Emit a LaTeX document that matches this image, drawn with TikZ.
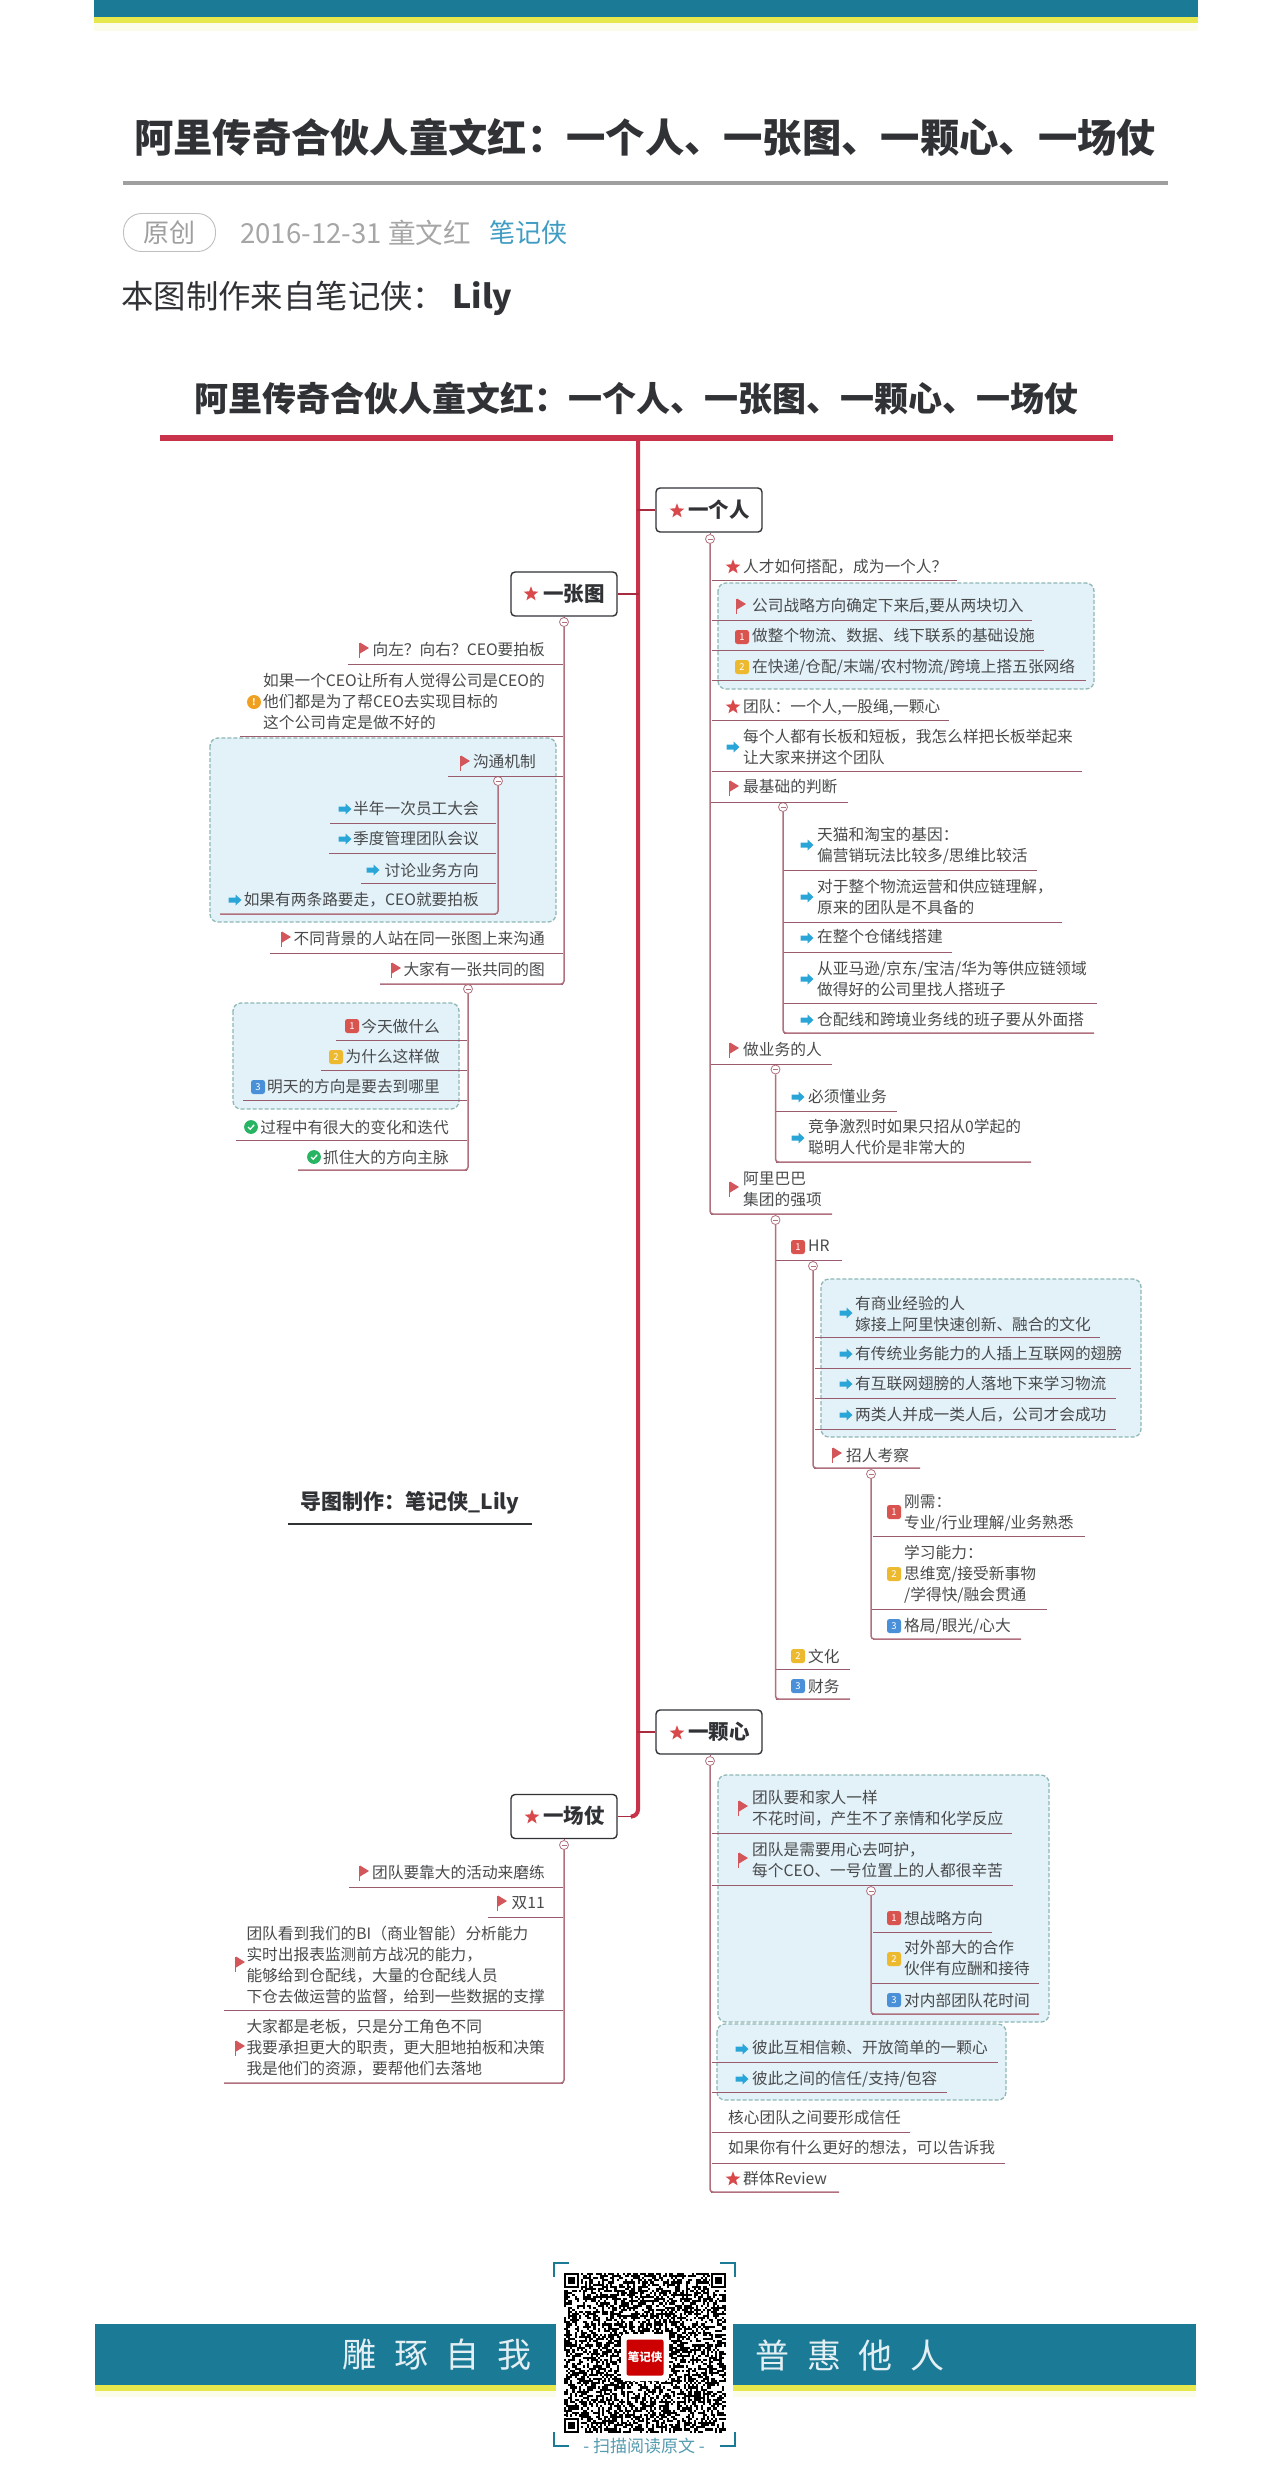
\documentclass[tikz,border=0pt]{standalone}
\usepackage{fontspec}
\setmainfont{Noto Sans CJK SC}
\usetikzlibrary{shapes.geometric}
\definecolor{teal}{HTML}{1B7A96}
\definecolor{barY}{HTML}{E6E84E}
\definecolor{titleC}{HTML}{303236}
\definecolor{bodyC}{HTML}{484A4C}
\definecolor{mainR}{HTML}{C8324A}
\definecolor{stemC}{HTML}{B0707E}
\definecolor{underC}{HTML}{9A5C6C}
\definecolor{boxF}{HTML}{E3F1F8}
\definecolor{boxD}{HTML}{8DB8B5}
\definecolor{flagC}{HTML}{D2565A}
\definecolor{starC}{HTML}{D9484A}
\definecolor{arrC}{HTML}{2AA5D8}
\definecolor{bR}{HTML}{D9534F}
\definecolor{bY}{HTML}{EDB92E}
\definecolor{bB}{HTML}{4A90D9}
\definecolor{chk}{HTML}{27B563}
\definecolor{warnC}{HTML}{F0A020}
\tikzset{
 txt/.style={inner sep=0pt,font=\fontsize{15.7}{21}\selectfont,text=bodyC,align=left},
 topic/.style={draw=titleC,line width=1.4pt,rounded corners=4pt,fill=white,minimum width=106pt,minimum height=44pt,inner sep=0pt},
 topictxt/.style={inner sep=0pt,font=\fontsize{20.5}{24}\selectfont\bfseries,text=titleC},
 groupbox/.style={draw=boxD,fill=boxF,line width=1.3pt,dash pattern=on 4pt off 2pt,rounded corners=8pt},
 stem/.style={draw=stemC,line width=1.5pt,rounded corners=3pt},
 under/.style={draw=underC,line width=0.9pt},
 collapse/.style={circle,draw=stemC,fill=white,line width=0.8pt,minimum size=9pt,inner sep=0pt,
   path picture={\draw[stemC,line width=0.7pt] ([xshift=2pt]path picture bounding box.west)--([xshift=-2pt]path picture bounding box.east);}},
 badge/.style={rounded corners=2.5pt,minimum size=14pt,inner sep=0pt,text=white,font=\fontsize{9.5}{9.5}\selectfont},
 staricon/.pic={\node[star,star points=5,star point ratio=2.4,fill=starC,minimum size=15.5pt,inner sep=0pt] (-s) at (0,0) {};},
 flagicon/.pic={\fill[flagC] (-4.5,-7.5) rectangle (-2.8,7.5); \fill[flagC] (-3,-7.5) -- (6,-2) -- (-3,3.5) -- cycle;},
 arrowicon/.pic={\fill[arrC] (-6.5,-2.5) -- (0.5,-2.5) -- (0.5,-5.5) -- (6.5,0) -- (0.5,5.5) -- (0.5,2.5) -- (-6.5,2.5) -- cycle;},
 oneicon/.pic={\node[badge,fill=bR] (-b) at (0,0) {1};},
 twoicon/.pic={\node[badge,fill=bY] (-b) at (0,0) {2};},
 threeicon/.pic={\node[badge,fill=bB] (-b) at (0,0) {3};},
 checkicon/.pic={\fill[chk] (0,0) circle (6.9); \draw[white,line width=1.3pt] (-3,0) -- (-0.8,2.2) -- (3.2,-2.2);},
 warnicon/.pic={\node[circle,fill=warnC,minimum size=14pt,inner sep=0pt,text=white,font=\fontsize{9}{9}\selectfont\bfseries] (-w) at (0,0) {!};},
 noicon/.pic={},
}
\newcommand\itemR[7]{\pic (#1i) at (#3,#4) {#2}; \node[txt,anchor=west] (#1) at (#5,#6) {#7};}
\newcommand\itemL[7]{\pic (#1i) at (#3,#4) {#2}; \node[txt,anchor=east] (#1) at (#5,#6) {#7};}
\newcommand\uln[4]{\coordinate (#1a) at (#2,#4); \coordinate (#1b) at (#3,#4); \draw[under] (#1a) -- (#1b);}
\def\gapw{\hspace{17.5pt}}
\begin{document}
\begin{tikzpicture}[x=1pt,y=-1pt]
\useasboundingbox (0,0) rectangle (1280,2471);
\fill[white] (0,0) rectangle (1280,2471);
% top band
\fill[barY!12] (94,23) rectangle (1198,31);
\fill[teal] (94,0) rectangle (1198,17);
\fill[barY] (94,17) rectangle (1198,23);
% header
\node[inner sep=0pt,font=\fontsize{39.3}{44}\selectfont\bfseries,text=titleC] (title1) at (645,137) {阿里传奇合伙人童文红：一个人、一张图、一颗心、一场仗};
\coordinate (g1) at (123,183); \coordinate (g2) at (1168,183);
\draw[gray!75,line width=4.5pt] (g1) -- (g2);
\node[draw=gray!50,line width=0.9pt,rounded corners=18pt,minimum width=92pt,minimum height=38pt,inner sep=0pt,text=gray!75,font=\fontsize{26}{28}\selectfont] (orig) at (169.5,232.5) {原创};
\node[anchor=west,inner sep=0pt,text=gray!70,font=\fontsize{27.6}{30}\selectfont] (dateN) at (240,233) {2016-12-31 童文红};
\node[anchor=west,inner sep=0pt,text=arrC!75!gray,font=\fontsize{26}{30}\selectfont] (srcN) at (489,233) {笔记侠};
\node[anchor=west,inner sep=0pt,text=titleC,font=\fontsize{32.4}{36}\selectfont] (madeN) at (121,298) {本图制作来自笔记侠： \textbf{Lily}};
\node[inner sep=0pt,font=\fontsize{34}{38}\selectfont\bfseries,text=titleC] (title2) at (636,398) {阿里传奇合伙人童文红：一个人、一张图、一颗心、一场仗};
\coordinate (r1) at (160,438); \coordinate (r2) at (1113,438);
\draw[mainR,line width=6pt] (r1) -- (r2);
% dashed group boxes
\draw[groupbox] (718,583) rectangle (1094,689);
\draw[groupbox] (210,738) rectangle (556,922);
\draw[groupbox] (233,1003) rectangle (459,1109);
\draw[groupbox] (821,1279) rectangle (1141,1437);
\draw[groupbox] (718,1775) rectangle (1049,2022);
\draw[groupbox] (717,2024) rectangle (1006,2100);
% topics
\node[topic] (tA) at (709,510) {};
\node[topic] (tB) at (564,594) {};
\node[topic] (tC) at (709,1732) {};
\node[topic] (tD) at (564,1816.5) {};
\pic (tAs) at (677,511) {staricon}; \node[topictxt,anchor=west] (tAt) at (688,510) {一个人};
\pic (tBs) at (531,594) {staricon}; \node[topictxt,anchor=west] (tBt) at (543,594) {一张图};
\pic (tCs) at (677,1733) {staricon}; \node[topictxt,anchor=west] (tCt) at (688,1732) {一颗心};
\pic (tDs) at (532,1817) {staricon}; \node[topictxt,anchor=west] (tDt) at (543,1816) {一场仗};
% main trunk
\coordinate (top) at (638,441);
\draw[mainR,line width=4pt,rounded corners=7pt] (top) |- ([xshift=14pt]tD.east);
\draw[mainR!85!black,line width=1.3pt] ([xshift=14pt]tD.east) -- (tD.east);
\draw[mainR!85!black,line width=1.3pt] (tA.west) -- ++(-18,0);
\draw[mainR!85!black,line width=1.3pt] (tB.east) -- ++(21,0);
\draw[mainR!85!black,line width=1.3pt] (tC.west) -- ++(-18,0);
% collapse markers
\node[collapse] (cA) at (710,539) {};
\node[collapse] (cA3) at (783,807) {};
\node[collapse] (cA4) at (775.5,1069.5) {};
\node[collapse] (cA5) at (775.5,1220) {};
\node[collapse] (cHR) at (813,1266) {};
\node[collapse] (cZP) at (871,1474) {};
\node[collapse] (cB) at (564,622) {};
\node[collapse] (cB3) at (498,781) {};
\node[collapse] (cB5) at (468,989) {};
\node[collapse] (cC) at (710,1761) {};
\node[collapse] (cC2) at (871,1891) {};
\node[collapse] (cD) at (564,1845) {};
\draw[under] (tA.south -| cA) -- (cA.north);
\draw[under] (tB.south -| cB) -- (cB.north);
\draw[under] (tC.south -| cC) -- (cC.north);
\draw[under] (tD.south -| cD) -- (cD.north);
% ---- 一个人
\itemR{a1}{staricon}{733}{567}{743}{567}{人才如何搭配，成为一个人？}
\uln{ua1}{712}{957}{580}
\itemR{a2}{flagicon}{740}{606}{752}{606}{公司战略方向确定下来后,要从两块切入}
\uln{ua2}{712}{1032}{620}
\itemR{a3}{oneicon}{742}{637}{752}{636}{做整个物流、数据、线下联系的基础设施}
\uln{ua3}{712}{1044}{650}
\itemR{a4}{twoicon}{742}{667}{752}{667}{在快递/仓配/末端/农村物流/跨境上搭五张网络}
\uln{ua4}{712}{1086}{680}
\itemR{a5}{staricon}{733}{707}{743}{707}{团队：一个人,一股绳,一颗心}
\uln{ua5}{712}{949}{720}
\itemR{a6}{arrowicon}{733}{747}{743}{747.5}{每个人都有长板和短板，我怎么样把长板举起来\\让大家来拼这个团队}
\uln{ua6}{712}{1082}{771}
\itemR{a7}{flagicon}{733}{788}{743}{787}{最基础的判断}
\uln{ua7}{711}{848}{802}
\itemR{a8}{arrowicon}{807}{845}{817}{845.5}{天猫和淘宝的基因：\\偏营销玩法比较多/思维比较活}
\uln{ua8}{784}{1037}{870}
\itemR{a9}{arrowicon}{807}{897}{817}{897}{对于整个物流运营和供应链理解，\\原来的团队是不具备的}
\uln{ua9}{784}{1062}{922}
\itemR{a10}{arrowicon}{807}{938}{817}{937}{在整个仓储线搭建}
\uln{ua10}{784}{952}{952}
\itemR{a11}{arrowicon}{807}{979}{817}{978.5}{从亚马逊/京东/宝洁/华为等供应链领域\\做得好的公司里找人搭班子}
\uln{ua11}{784}{1097}{1003}
\itemR{a12}{arrowicon}{807}{1020}{817}{1020}{仓配线和跨境业务线的班子要从外面搭}
\uln{ua12}{784}{1094}{1033}
\draw[stem] (cA3.south) |- (ua12b);
\itemR{a13}{flagicon}{733}{1050}{743}{1049}{做业务的人}
\uln{ua13}{711}{832}{1064}
\itemR{a14}{arrowicon}{798}{1097}{808}{1097}{必须懂业务}
\uln{ua14}{776}{897}{1111}
\itemR{a15}{arrowicon}{798}{1138}{808}{1137.5}{竞争激烈时如果只招从0学起的\\聪明人代价是非常大的}
\uln{ua15}{776}{1031}{1162}
\draw[stem] (cA4.south) |- (ua15b);
\itemR{a16}{flagicon}{733}{1189}{743}{1189}{阿里巴巴\\集团的强项}
\uln{ua16}{711}{832}{1214}
\draw[stem] (cA.south) |- (ua16b);
\itemR{a17}{oneicon}{798}{1247}{808}{1246}{HR}
\uln{ua17}{776}{842}{1260}
\itemR{a18}{arrowicon}{846}{1313}{855}{1313.5}{有商业经验的人\\嫁接上阿里快速创新、融合的文化}
\uln{ua18}{815}{1100}{1337}
\itemR{a19}{arrowicon}{846}{1354}{855}{1354}{有传统业务能力的人插上互联网的翅膀}
\uln{ua19}{815}{1131}{1368}
\itemR{a20}{arrowicon}{846}{1384}{855}{1384}{有互联网翅膀的人落地下来学习物流}
\uln{ua20}{815}{1116}{1398}
\itemR{a21}{arrowicon}{846}{1415}{855}{1415}{两类人并成一类人后，公司才会成功}
\uln{ua21}{815}{1116}{1429}
\itemR{a22}{flagicon}{836}{1455}{846}{1455}{招人考察}
\uln{ua22}{814}{920}{1468}
\draw[stem] (cHR.south) |- (ua22b);
\itemR{a23}{oneicon}{894}{1512}{904}{1512.5}{刚需：\\专业/行业理解/业务熟悉}
\uln{ua23}{873}{1085}{1536}
\itemR{a24}{twoicon}{894}{1574}{904}{1574.5}{学习能力：\\思维宽/接受新事物\\/学得快/融会贯通}
\uln{ua24}{872}{1047}{1609}
\itemR{a25}{threeicon}{894}{1626}{904}{1626}{格局/眼光/心大}
\uln{ua25}{873}{1021}{1639}
\draw[stem] (cZP.south) |- (ua25b);
\itemR{a26}{twoicon}{798}{1656}{808}{1656}{文化}
\uln{ua26}{776}{850}{1669}
\itemR{a27}{threeicon}{798}{1686}{808}{1686}{财务}
\uln{ua27}{776}{850}{1699}
\draw[stem] (cA5.south) |- (ua27b);
% ---- 一张图
\itemL{b1}{flagicon}{363}{650}{545}{650}{向左？向右？CEO要拍板}
\uln{ub1}{348}{563}{664}
\itemL{b2}{warnicon}{254}{702}{545}{701.5}{如果一个CEO让所有人觉得公司是CEO的\\他们都是为了帮CEO去实现目标的\\这个公司肯定是做不好的}
\uln{ub2}{240}{563}{736}
\itemL{b3}{flagicon}{464}{763}{536}{762}{沟通机制}
\uln{ub3}{448}{563}{776}
\itemL{b4}{arrowicon}{345}{809}{479}{809}{半年一次员工大会}
\uln{ub4}{330}{496}{823}
\itemL{b5}{arrowicon}{345}{839}{479}{839}{季度管理团队会议}
\uln{ub5}{329}{496}{853}
\itemL{b6}{arrowicon}{373}{870}{479}{870}{讨论业务方向}
\uln{ub6}{361}{496}{883}
\itemL{b7}{arrowicon}{235}{900}{479}{900}{如果有两条路要走，CEO就要拍板}
\uln{ub7}{220}{496}{914}
\draw[stem] (cB3.south) |- (ub7a);
\itemL{b8}{flagicon}{285}{939}{545}{939}{不同背景的人站在同一张图上来沟通}
\uln{ub8}{270}{563}{953}
\itemL{b9}{flagicon}{395}{970}{545}{970}{大家有一张共同的图}
\uln{ub9}{380}{563}{984}
\draw[stem] (cB.south) |- (ub9a);
\itemL{b10}{oneicon}{352}{1026}{440}{1026}{今天做什么}
\uln{ub10}{336}{467}{1040}
\itemL{b11}{twoicon}{336}{1057}{440}{1056}{为什么这样做}
\uln{ub11}{321}{467}{1070}
\itemL{b12}{threeicon}{258}{1087}{440}{1087}{明天的方向是要去到哪里}
\uln{ub12}{243}{467}{1100}
\itemL{b13}{checkicon}{251}{1127}{449}{1127}{过程中有很大的变化和迭代}
\uln{ub13}{236}{467}{1140}
\itemL{b14}{checkicon}{314}{1157}{449}{1157}{抓住大的方向主脉}
\uln{ub14}{298}{467}{1170}
\draw[stem] (cB5.south) |- (ub14a);
% ---- 导图制作
\node[inner sep=0pt,font=\fontsize{21}{24}\selectfont\bfseries,text=titleC] (madeB) at (410,1503) {导图制作：笔记侠\_Lily};
\coordinate (mk1) at (288,1524); \coordinate (mk2) at (532,1524);
\draw[titleC,line width=1.2pt] (mk1) -- (mk2);
% ---- 一颗心
\itemR{c1}{flagicon}{742}{1808}{752}{1808.5}{团队要和家人一样\\不花时间，产生不了亲情和化学反应}
\uln{uc1}{712}{1012}{1833}
\itemR{c2}{flagicon}{742}{1860}{752}{1860}{团队是需要用心去呵护，\\每个CEO、一号位置上的人都很辛苦}
\uln{uc2}{712}{1013}{1885}
\itemR{c3}{oneicon}{894}{1918}{904}{1918}{想战略方向}
\uln{uc3}{873}{992}{1932}
\itemR{c4}{twoicon}{894}{1959}{904}{1958.5}{对外部大的合作\\伙伴有应酬和接待}
\uln{uc4}{872}{1039}{1983}
\itemR{c5}{threeicon}{894}{2000}{904}{2000}{对内部团队花时间}
\uln{uc5}{872}{1039}{2014}
\draw[stem] (cC2.south) |- (uc5b);
\itemR{c6}{arrowicon}{742}{2049}{752}{2048}{彼此互相信赖、开放简单的一颗心}
\uln{uc6}{712}{998}{2062}
\itemR{c7}{arrowicon}{742}{2079}{752}{2079}{彼此之间的信任/支持/包容}
\uln{uc7}{712}{947}{2092}
\itemR{c8}{noicon}{728}{2118}{728}{2118}{核心团队之间要形成信任}
\uln{uc8}{712}{910}{2132}
\itemR{c9}{noicon}{728}{2148}{728}{2148}{如果你有什么更好的想法，可以告诉我}
\uln{uc9}{712}{1005}{2163}
\itemR{c10}{staricon}{733}{2179}{743}{2179}{群体Review}
\uln{uc10}{711}{839}{2192}
\draw[stem] (cC.south) |- (uc10b);
% ---- 一场仗
\itemL{d1}{flagicon}{363}{1873}{545}{1872}{团队要靠大的活动来磨练}
\uln{ud1}{349}{563}{1887}
\itemL{d2}{flagicon}{501}{1903}{545}{1903}{双11}
\uln{ud2}{488}{563}{1917}
\itemL{d3}{flagicon}{239}{1964}{545}{1965}{团队看到我们的BI（商业智能）分析能力\\实时出报表监测前方战况的能力，\\能够给到仓配线，大量的仓配线人员\\下仓去做运营的监督，给到一些数据的支撑}
\uln{ud3}{224}{563}{2010}
\itemL{d4}{flagicon}{239}{2048}{545}{2048}{大家都是老板，只是分工角色不同\\我要承担更大的职责，更大胆地拍板和决策\\我是他们的资源，要帮他们去落地}
\uln{ud4}{224}{563}{2083}
\draw[stem] (cD.south) |- (ud4a);
% bottom band
\fill[barY!12] (94.5,2391) rectangle (1196,2397);
\fill[teal] (94.5,2324) rectangle (1196,2385);
\fill[barY] (94.5,2385) rectangle (1196,2391);
\fill[white] (556,2318) rectangle (733,2398);
\node[inner sep=0pt,text=white!88!teal,font=\fontsize{34}{38}\selectfont] (sloganL) at (437,2355) {雕\gapw 琢\gapw 自\gapw 我};
\node[inner sep=0pt,text=white!88!teal,font=\fontsize{34}{38}\selectfont] (sloganR) at (850,2355) {普\gapw 惠\gapw 他\gapw 人};
% QR
\pgfmathsetseed{20161}
\foreach \i in {0,...,76}{\foreach \j in {0,...,75}{%
  \pgfmathrandominteger{\rr}{0}{99}%
  \ifnum\rr<52 \fill[black] (564+\i*2.1,2273+\j*2.1) rectangle ++(2.1,2.1);\fi}}
\foreach \fx/\fy in {564/2273,711/2273,564/2418}{
  \fill[white] (\fx-1,\fy-1) rectangle ++(18,18);
  \fill[black] (\fx,\fy) rectangle ++(15,15);
  \fill[white] (\fx+2.1,\fy+2.1) rectangle ++(10.8,10.8);
  \fill[black] (\fx+4.2,\fy+4.2) rectangle ++(6.6,6.6);
}
\node[fill=white,rounded corners=4pt,minimum width=48pt,minimum height=47pt,inner sep=0pt] (logoB) at (645,2357.5) {};
\node[fill=red!80!black,rounded corners=2pt,minimum width=37pt,minimum height=36pt,inner sep=0pt,text=white,font=\fontsize{11.5}{12}\selectfont\bfseries] (logo) at (645,2357.5) {笔记侠};
\draw[teal,line width=2pt] (569,2263) -- (553.5,2263) -- (553.5,2277);
\draw[teal,line width=2pt] (720,2263) -- (735,2263) -- (735,2277);
\draw[teal,line width=2pt] (553.5,2432) -- (553.5,2446) -- (569,2446);
\draw[teal,line width=2pt] (735,2432) -- (735,2446) -- (720,2446);
\node[inner sep=0pt,text=teal!75,font=\fontsize{17}{20}\selectfont] (scan) at (644,2446) {- 扫描阅读原文 -};
\end{tikzpicture}
\end{document}
